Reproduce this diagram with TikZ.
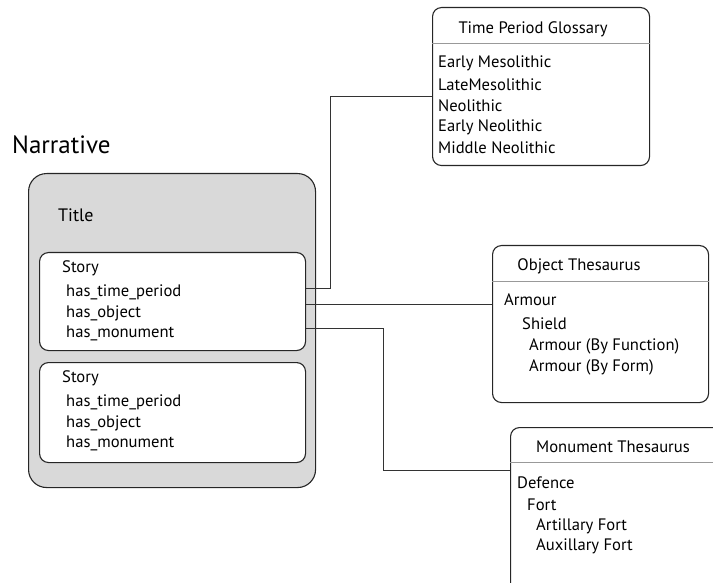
\documentclass[tikz,border=0pt]{standalone}
\usepackage{fontspec}
\setmainfont{PT Sans}
\begin{document}
\begin{tikzpicture}[x=1pt,y=-1pt,
  frame/.style={draw=black!85, line width=1.1pt},
  panel/.style={frame, rounded corners=9pt, inner sep=0pt, anchor=north west},
  sep/.style={draw=black!40, line width=0.8pt},
  wire/.style={draw=black!80, line width=1pt},
  lbl/.style={inner sep=0pt, anchor=west, font=\fontsize{16.6}{19}\selectfont},
  head/.style={inner sep=0pt, anchor=center, font=\fontsize{16.6}{19}\selectfont}]
\useasboundingbox (0,0) rectangle (713,583);

% narrative container
\node[font=\fontsize{25}{28}\selectfont, inner sep=0pt, anchor=west] (narr) at (12,145) {Narrative};
\node[panel, fill=black!15, rounded corners=18pt, minimum width=287pt, minimum height=314pt] (outer) at (28,173) {};
\node[lbl, font=\fontsize{18}{21}\selectfont] (title) at (58,215) {Title};

% first story
\node[panel, fill=white, minimum width=266pt, minimum height=98pt] (story1) at (39,252) {};
\node[lbl] (s1a) at (62,268) {Story};
\node[lbl] (s1b) at (66,292) {has\_time\_period};
\node[lbl] (s1c) at (66,313) {has\_object};
\node[lbl] (s1d) at (66,333) {has\_monument};

% second story
\node[panel, fill=white, minimum width=266pt, minimum height=100pt] (story2) at (39,362) {};
\node[lbl] (s2a) at (62,378) {Story};
\node[lbl] (s2b) at (66,402) {has\_time\_period};
\node[lbl] (s2c) at (66,423) {has\_object};
\node[lbl] (s2d) at (66,443) {has\_monument};

% time period glossary
\node[panel, minimum width=217pt, minimum height=158pt] (time) at (432,7) {};
\draw[sep] ([yshift=-36pt]time.north west) -- ([yshift=-36pt]time.north east);
\node[head] (timeh) at (533,29) {Time Period Glossary};
\node[lbl] (t1) at (438,63) {Early Mesolithic};
\node[lbl] (t2) at (438,85) {LateMesolithic};
\node[lbl] (t3) at (438,106) {Neolithic};
\node[lbl] (t4) at (438,127) {Early Neolithic};
\node[lbl] (t5) at (438,148) {Middle Neolithic};

% object thesaurus
\node[panel, minimum width=216pt, minimum height=157pt] (obj) at (492,245) {};
\draw[sep] ([yshift=-36pt]obj.north west) -- ([yshift=-36pt]obj.north east);
\node[head] (objh) at (579,266) {Object Thesaurus};
\node[lbl] (o1) at (504,300) {Armour};
\node[lbl] (o2) at (522,324) {Shield};
\node[lbl] (o3) at (529,346) {Armour (By Function)};
\node[lbl] (o4) at (529,367) {Armour (By Form)};

% monument thesaurus (runs past the right and bottom edges)
\node[panel, minimum width=250pt, minimum height=180pt] (mon) at (510,427) {};
\draw[sep] ([yshift=-35pt]mon.north west) -- ([yshift=-35pt]mon.north east);
\node[head] (monh) at (613,447) {Monument Thesaurus};
\node[lbl] (m1) at (517,483) {Defence};
\node[lbl] (m2) at (527,505) {Fort};
\node[lbl] (m3) at (536,526) {Artillary Fort};
\node[lbl] (m4) at (536,546) {Auxillary Fort};

% links
\draw[wire] ([yshift=13pt]story1.east) -- ++(24,0) |- ([yshift=-90pt]time.north west);
\draw[wire] ([yshift=-3pt]story1.east) coordinate (po) -- (po -| obj.west);
\draw[wire] ([yshift=-27pt]story1.east) -- ++(77,0) |- ([yshift=-43pt]mon.north west);
\end{tikzpicture}
\end{document}
